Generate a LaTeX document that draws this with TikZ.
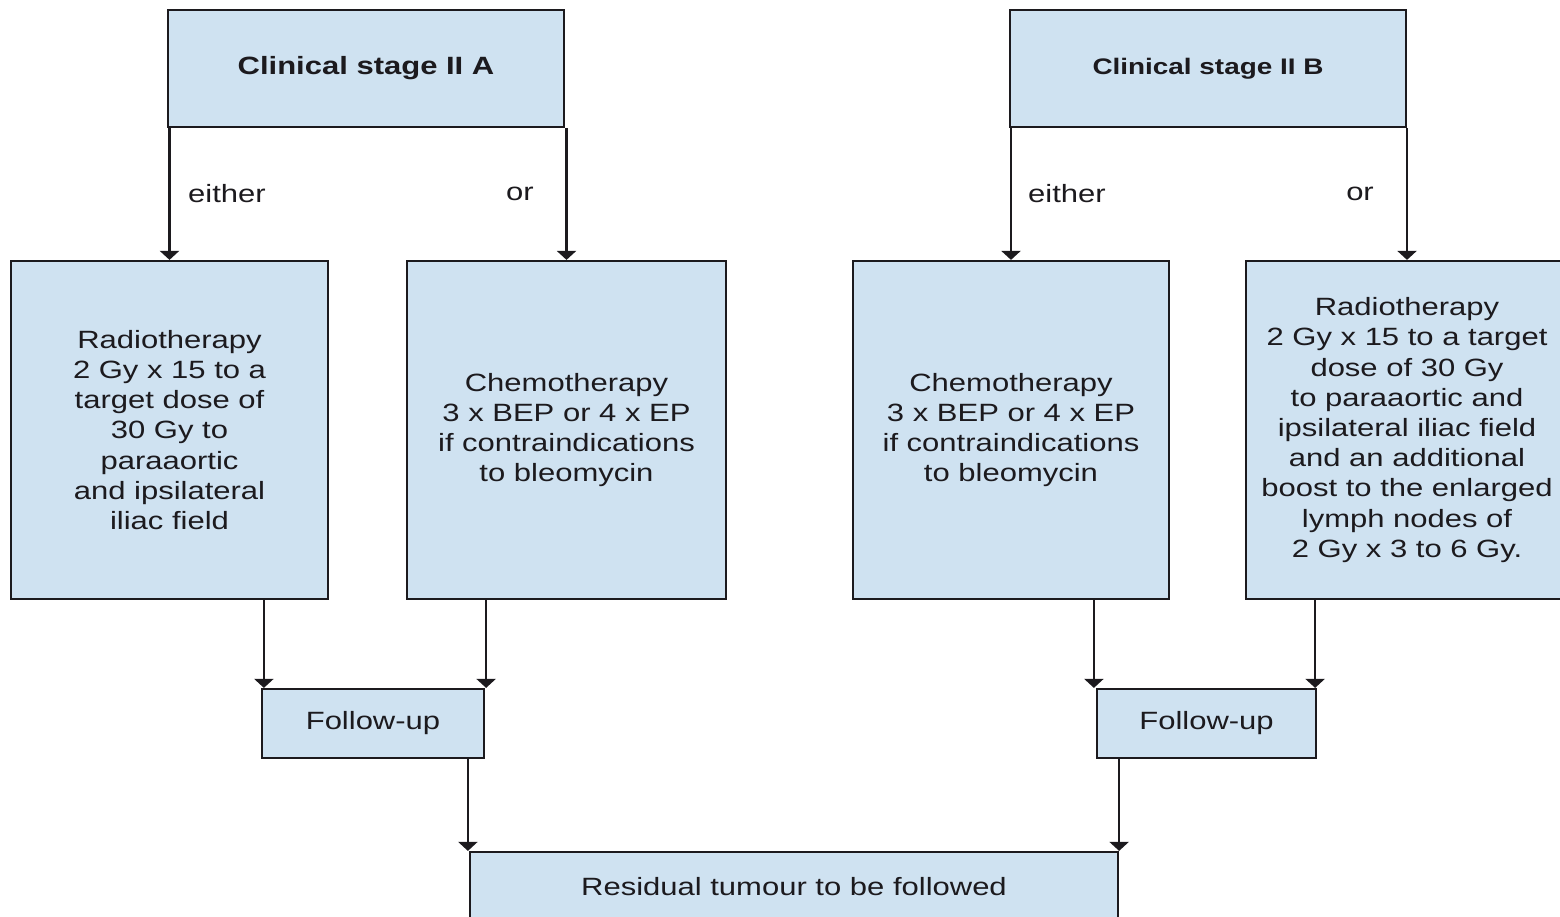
\documentclass[tikz,border=0pt]{standalone}
\usepackage{fontspec}
\setmainfont{Liberation Sans}[FakeStretch=1.24]
\usetikzlibrary{arrows.meta}
\definecolor{boxfill}{RGB}{207,226,241}
\definecolor{ink}{RGB}{28,26,30}
\tikzset{
  box/.style={draw=ink, fill=boxfill, line width=2.2pt, inner sep=0pt, align=center, text=ink,
    font=\fontsize{25}{30.2}\selectfont},
  arr/.style={draw=ink, line width=2.2pt, -{Triangle[width=19pt,length=9pt]}},
  lbl/.style={text=ink, inner sep=0pt, font=\fontsize{25}{30}\selectfont}
}
\begin{document}
\begin{tikzpicture}[x=1pt,y=-1pt]
\useasboundingbox (0,0) rectangle (1560,917);
\clip (0,0) rectangle (1560,917);
% titles
\node[box, minimum width=396pt, minimum height=117pt, font=\bfseries\fontsize{25}{30}\selectfont] (tA) at (366,68.5) {Clinical stage II A};
\node[box, minimum width=396pt, minimum height=117pt, font=\bfseries\fontsize{22.5}{27}\selectfont] (tB) at (1208,68.5) {Clinical stage II B};
% treatment boxes
\node[box, minimum width=317pt, minimum height=338pt] (b1) at (169.5,430) {Radiotherapy\\2 Gy x 15 to a\\target dose of\\30 Gy to\\paraaortic\\and ipsilateral\\iliac field};
\node[box, minimum width=319pt, minimum height=338pt] (b2) at (566.5,430) {Chemotherapy\\3 x BEP or 4 x EP\\if contraindications\\to bleomycin};
\node[box, minimum width=316pt, minimum height=338pt] (b3) at (1011,430) {Chemotherapy\\3 x BEP or 4 x EP\\if contraindications\\to bleomycin};
\node[box, minimum width=322pt, minimum height=338pt] (b4) at (1407,430) {Radiotherapy\\2 Gy x 15 to a target\\dose of 30 Gy\\to paraaortic and\\ipsilateral iliac field\\and an additional\\boost to the enlarged\\lymph nodes of\\2 Gy x 3 to 6 Gy.};
% follow-ups
\node[box, minimum width=222pt, minimum height=69pt] (fA) at (373,723.5) {Follow-up};
\node[box, minimum width=219pt, minimum height=69pt] (fB) at (1206.5,723.5) {Follow-up};
% residual
\node[box, minimum width=648pt, minimum height=70pt] (R) at (794,887) {Residual tumour to be followed};
% labels
\node[lbl, anchor=west] (eA) at (188,194) {either};
\node[lbl, anchor=east] (oA) at (534,194) {or};
\node[lbl, anchor=west] (eB) at (1028,194) {either};
\node[lbl, anchor=east] (oB) at (1374,194) {or};
% arrows from titles
\draw[arr] (b1.north |- tA.south) -- (b1.north);
\draw[arr] (b2.north |- tA.south) -- (b2.north);
\draw[arr] (b3.north |- tB.south) -- (b3.north);
\draw[arr] (b4.north |- tB.south) -- (b4.north);
% arrows to follow-ups
\draw[arr] ([xshift=3pt]fA.north west |- b1.south) -- ([xshift=3pt]fA.north west);
\draw[arr] ([xshift=1pt]fA.north east |- b2.south) -- ([xshift=1pt]fA.north east);
\draw[arr] ([xshift=-2pt]fB.north west |- b3.south) -- ([xshift=-2pt]fB.north west);
\draw[arr] ([xshift=-2pt]fB.north east |- b4.south) -- ([xshift=-2pt]fB.north east);
% arrows to residual
\draw[arr] ([xshift=-1pt]R.north west |- fA.south) -- ([xshift=-1pt]R.north west);
\draw[arr] (R.north east |- fB.south) -- (R.north east);
\end{tikzpicture}
\end{document}
